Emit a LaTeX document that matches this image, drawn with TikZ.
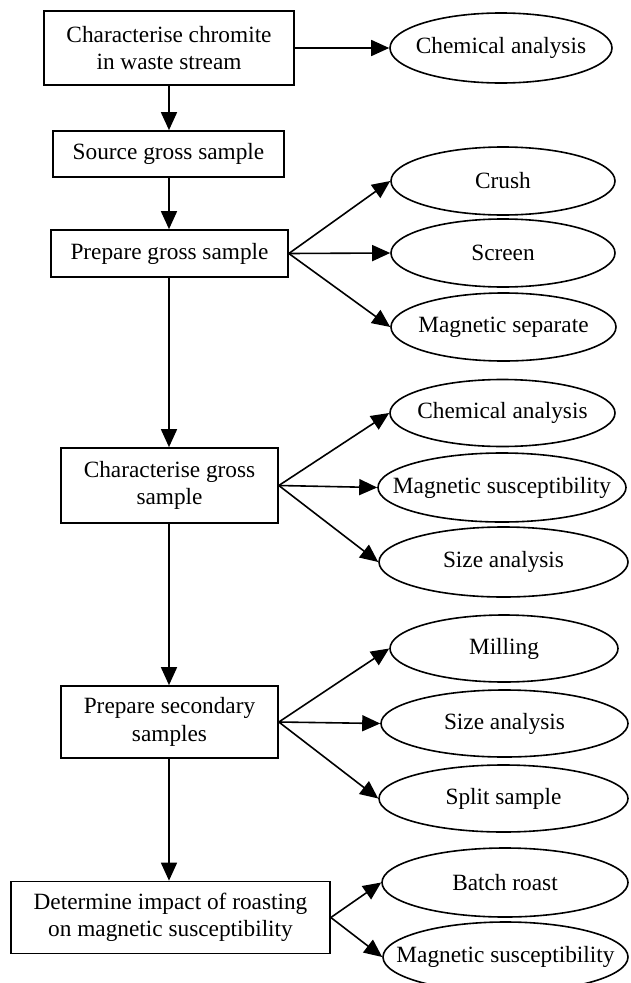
\documentclass[tikz,border=0pt]{standalone}
\usepackage{fontspec}
\setmainfont{Liberation Serif}
\usetikzlibrary{shapes.geometric,arrows.meta}
\newcommand{\etxt}[1]{\makebox[0pt]{#1}}
\begin{document}
\begin{tikzpicture}[x=1pt,y=-1pt,
  every node/.style={font=\fontsize{23.3}{27.4}\selectfont, inner sep=0pt},
  stepbox/.style={draw, rectangle, line width=1.7pt, align=center},
  oval/.style={draw, ellipse, line width=1.6pt},
  arr/.style={line width=1.6pt, -{Triangle[length=18pt,width=16pt]}}]
\path[clip] (0,0) rectangle (631,983);
\fill[white] (0,0) rectangle (631,983);
% boxes
\node[stepbox, minimum width=250pt, minimum height=74pt] (b1) at (169,48) {Characterise chromite\\in waste stream};
\node[stepbox, minimum width=231pt, minimum height=46pt] (b2) at (168.5,154) {Source gross sample};
\node[stepbox, minimum width=237pt, minimum height=47pt] (b3) at (169.5,253.5) {Prepare gross sample};
\node[stepbox, minimum width=217pt, minimum height=75pt] (b4) at (169.5,485.5) {Characterise gross\\sample};
\node[stepbox, minimum width=217pt, minimum height=72pt] (b5) at (169.5,722) {Prepare secondary\\samples};
\node[stepbox, minimum width=319pt, minimum height=72pt] (b6) at (170.5,917.5) {Determine impact of roasting\\on magnetic susceptibility};
% ellipses
\node[oval, minimum width=222pt, minimum height=70pt] (e1) at (501,48) {\etxt{Chemical analysis}};
\node[oval, minimum width=224pt, minimum height=68pt] (e2) at (503,181) {\etxt{Crush}};
\node[oval, minimum width=224pt, minimum height=68pt] (e3) at (503,253) {\etxt{Screen}};
\node[oval, minimum width=225pt, minimum height=68pt] (e4) at (503.5,327) {\etxt{Magnetic separate}};
\node[oval, minimum width=225pt, minimum height=67pt] (e5) at (502.5,413) {\etxt{Chemical analysis}};
\node[oval, minimum width=248pt, minimum height=69pt] (e6) at (502,487.5) {\etxt{Magnetic susceptibility}};
\node[oval, minimum width=249pt, minimum height=70pt] (e7) at (503.5,562) {\etxt{Size analysis}};
\node[oval, minimum width=228pt, minimum height=67pt] (e8) at (504,648.5) {\etxt{Milling}};
\node[oval, minimum width=247pt, minimum height=67pt] (e9) at (504.5,723.5) {\etxt{Size analysis}};
\node[oval, minimum width=249pt, minimum height=67pt] (e10) at (503.5,798.5) {\etxt{Split sample}};
\node[oval, minimum width=246pt, minimum height=69pt] (e11) at (505,882.5) {\etxt{Batch roast}};
\node[oval, minimum width=245pt, minimum height=70pt] (e12) at (505.5,957) {\etxt{Magnetic susceptibility}};
% main flow (straight verticals at x of b1)
\draw[arr] (b1.south) -- (b1.south |- b2.north);
\draw[arr] (b1.south |- b2.south) -- (b1.south |- b3.north);
\draw[arr] (b1.south |- b3.south) -- (b1.south |- b4.north);
\draw[arr] (b1.south |- b4.south) -- (b1.south |- b5.north);
\draw[arr] (b1.south |- b5.south) -- (b1.south |- b6.north);
% branches
\draw[arr] (b1.east) -- (e1.west);
\draw[arr] (b3.east) -- (e2.west);
\draw[arr] (b3.east) -- (e3.west);
\draw[arr] (b3.east) -- (e4.west);
\draw[arr] (b4.east) -- (e5.west);
\draw[arr] (b4.east) -- (e6.west);
\draw[arr] (b4.east) -- (e7.west);
\draw[arr] (b5.east) -- (e8.west);
\draw[arr] (b5.east) -- (e9.west);
\draw[arr] (b5.east) -- (e10.west);
\draw[arr] (b6.east) -- (e11.west);
\draw[arr] (b6.east) -- (e12.west);
\end{tikzpicture}
\end{document}
